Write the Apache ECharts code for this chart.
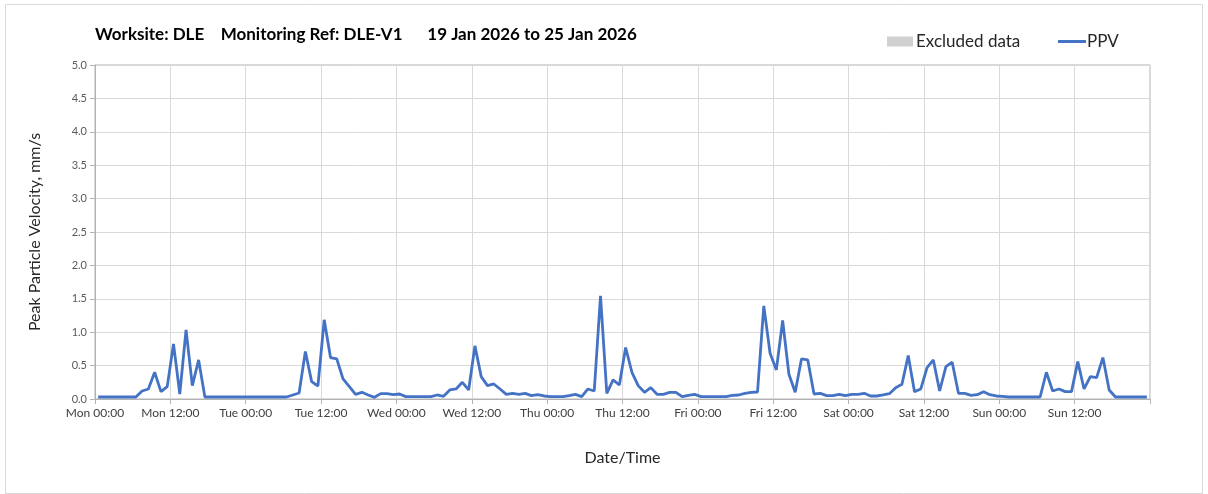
<!DOCTYPE html>
<html>
<head>
<meta charset="utf-8">
<script src="https://cdn.jsdelivr.net/npm/echarts@6/dist/echarts.min.js"></script>
<style>
  html, body { margin: 0; padding: 0; background: #fff; }
  #chart { width: 1208px; height: 494px; }
</style>
</head>
<body>
<div id="chart"></div>
<script>
// hourly PPV peaks, Mon 00:00 -> Sun 23:00 (one value per hour, plotted mid-hour)
const ppv = [
  0.03, 0.03, 0.03, 0.03, 0.03, 0.03, 0.03, 0.12, 0.15, 0.40, 0.11, 0.185,
  0.825, 0.075, 1.035, 0.20, 0.585, 0.03, 0.03, 0.03, 0.03, 0.03, 0.03, 0.03,
  0.03, 0.03, 0.03, 0.03, 0.03, 0.03, 0.03, 0.06, 0.09, 0.71, 0.26, 0.195,
  1.185, 0.62, 0.60, 0.30, 0.185, 0.07, 0.10, 0.06, 0.025, 0.08, 0.08, 0.065,
  0.075, 0.035, 0.035, 0.035, 0.035, 0.035, 0.06, 0.04, 0.135, 0.15, 0.25, 0.135,
  0.795, 0.335, 0.20, 0.225, 0.15, 0.07, 0.085, 0.07, 0.085, 0.05, 0.065, 0.045,
  0.035, 0.035, 0.035, 0.05, 0.07, 0.035, 0.15, 0.12, 1.545, 0.085, 0.285, 0.21,
  0.77, 0.40, 0.20, 0.10, 0.17, 0.07, 0.07, 0.10, 0.10, 0.035, 0.055, 0.07,
  0.035, 0.035, 0.035, 0.035, 0.035, 0.055, 0.06, 0.085, 0.10, 0.105, 1.395, 0.685,
  0.435, 1.175, 0.37, 0.10, 0.60, 0.585, 0.075, 0.085, 0.05, 0.05, 0.07, 0.05,
  0.07, 0.07, 0.085, 0.045, 0.045, 0.06, 0.08, 0.17, 0.22, 0.65, 0.11, 0.15,
  0.47, 0.585, 0.12, 0.485, 0.55, 0.085, 0.085, 0.055, 0.065, 0.11, 0.065, 0.045,
  0.04, 0.03, 0.03, 0.03, 0.03, 0.03, 0.03, 0.40, 0.12, 0.15, 0.11, 0.11,
  0.56, 0.15, 0.335, 0.32, 0.62, 0.135, 0.03, 0.03, 0.03, 0.03, 0.03, 0.03
]

const tickLabels = [
  'Mon 00:00', 'Mon 12:00', 'Tue 00:00', 'Tue 12:00', 'Wed 00:00', 'Wed 12:00',
  'Thu 00:00', 'Thu 12:00', 'Fri 00:00', 'Fri 12:00', 'Sat 00:00', 'Sat 12:00',
  'Sun 00:00', 'Sun 12:00'
]

const excluded = [] // no excluded periods this week

const titleText = 'Worksite: DLE    Monitoring Ref: DLE-V1      19 Jan 2026 to 25 Jan 2026'

const font = 'Lato, "DejaVu Sans", sans-serif'
const gridColor = '#d9d9d9'
const axisColor = '#b3b3b3'

const chart = echarts.init(document.getElementById('chart'), null, { renderer: 'canvas' })

chart.setOption({
  animation: false,
  textStyle: { fontFamily: font },
  graphic: [{
    type: 'rect',
    shape: { x: 5.5, y: 4.5, width: 1197, height: 489 },
    style: { fill: 'none', stroke: '#d9d9d9', lineWidth: 1 },
    silent: true
  }],
  title: {
    text: titleText,
    left: 90,
    top: 21,
    textStyle: { fontFamily: font, fontSize: 17, fontWeight: 'bold', color: '#000' }
  },
  legend: [{
    data: ['Excluded data'],
    left: 882,
    top: 28,
    itemWidth: 26,
    itemHeight: 10,
    icon: 'rect',
    textStyle: { fontFamily: font, fontSize: 17, color: '#262626', padding: [0, 0, 0, -2] }
  }, {
    data: ['PPV'],
    left: 1053,
    top: 28,
    itemWidth: 28,
    itemHeight: 3,
    icon: 'rect',
    textStyle: { fontFamily: font, fontSize: 17, color: '#262626', padding: [0, 0, 0, -4] }
  }],
  grid: {
    left: 95,
    top: 65,
    right: 58,
    bottom: 95,
    show: true,
    borderColor: axisColor,
    borderWidth: 1
  },
  xAxis: {
    type: 'value',
    min: 0,
    max: 168,
    interval: 12,
    name: 'Date/Time',
    nameLocation: 'middle',
    nameGap: 51,
    nameTextStyle: { fontFamily: font, fontSize: 16, color: '#262626' },
    axisLine: { show: true, lineStyle: { color: axisColor } },
    axisTick: { show: true, length: 5, lineStyle: { color: axisColor } },
    axisLabel: {
      fontFamily: font,
      fontSize: 12,
      color: '#404040',
      margin: 8,
      formatter: v => tickLabels[v / 12] || ''
    },
    splitLine: { show: true, lineStyle: { color: gridColor } }
  },
  yAxis: {
    type: 'value',
    min: 0,
    max: 5,
    interval: 0.5,
    name: 'Peak Particle Velocity, mm/s',
    nameLocation: 'middle',
    nameGap: 52,
    nameTextStyle: { fontFamily: font, fontSize: 16, color: '#262626' },
    axisLine: { show: true, lineStyle: { color: axisColor } },
    axisTick: { show: true, length: 5, lineStyle: { color: axisColor } },
    axisLabel: {
      fontFamily: font,
      fontSize: 11,
      color: '#595959',
      margin: 8,
      formatter: v => v.toFixed(1)
    },
    splitLine: { show: true, lineStyle: { color: gridColor } }
  },
  series: [{
    name: 'Excluded data',
    type: 'bar',
    data: excluded,
    itemStyle: { color: '#d0d0d0' }
  }, {
    name: 'PPV',
    type: 'line',
    data: ppv.map((v, i) => [i + 0.5, v]),
    showSymbol: false,
    symbol: 'none',
    lineStyle: { color: '#4472c4', width: 2.8 },
    itemStyle: { color: '#4472c4' }
  }]
})
</script>
</body>
</html>
